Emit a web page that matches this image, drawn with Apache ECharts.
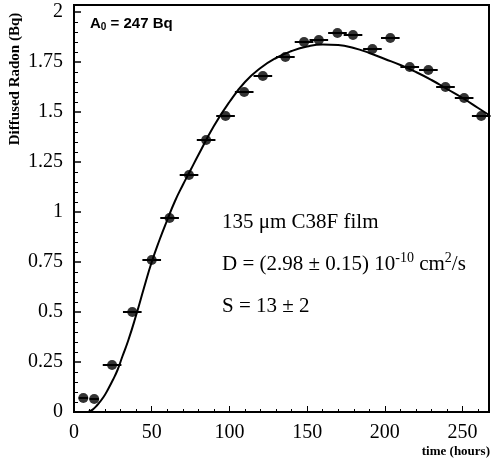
<!DOCTYPE html>
<html>
<head>
<meta charset="utf-8">
<script src="https://cdn.jsdelivr.net/npm/echarts@6/dist/echarts.min.js"></script>
<style>
  html, body { margin: 0; padding: 0; background: #fff; }
  #chart { width: 492px; height: 464px; }
</style>
</head>
<body>
<div id="chart"></div>
<script>
// Measured diffused radon activity vs. exposure time
const hours   = [6, 13, 24.5, 37.5, 50, 61.5, 74, 85, 97.5, 109.5, 121.5, 136, 148, 157.5, 169.5, 179.5, 192, 203.5, 216, 228, 239, 251, 262];
const radon   = [0.07, 0.065, 0.235, 0.5, 0.76, 0.97, 1.185, 1.36, 1.48, 1.6, 1.68, 1.775, 1.85, 1.86, 1.895, 1.885, 1.815, 1.87, 1.725, 1.71, 1.625, 1.57, 1.48];
// half-width of each time bin (hours)
const hourErr = [3, 3, 6, 6, 6, 6, 6, 6, 6, 6, 6, 6, 6, 6, 6, 6, 6, 6, 6, 6, 6, 6, 6];

// Diffusion model fit
const fitHours = [9, 12, 15, 19, 22, 25, 28, 31, 35, 40, 45, 50, 55, 60, 65, 70, 75, 80, 90, 100, 110, 120, 130, 140, 150, 160, 170, 180, 190, 200, 210, 220, 230, 240, 250, 260, 267];
const fitRadon = [0, 0.012, 0.035, 0.075, 0.115, 0.16, 0.21, 0.275, 0.36, 0.485, 0.62, 0.75, 0.86, 0.96, 1.055, 1.135, 1.21, 1.285, 1.43, 1.55, 1.65, 1.72, 1.77, 1.805, 1.828, 1.838, 1.835, 1.82, 1.795, 1.765, 1.735, 1.7, 1.66, 1.615, 1.57, 1.52, 1.485];

const yTickLabels = ['0', '0.25', '0.5', '0.75', '1', '1.25', '1.5', '1.75', '2'];
const xTickLabels = ['0', '50', '100', '150', '200', '250'];

const SERIF = '"Liberation Serif", "Times New Roman", serif';
const SANS = '"Liberation Sans", Arial, sans-serif';

function pickLabel(list, v) {
  const s = list.find(l => Math.abs(parseFloat(l) - v) < 1e-6);
  return s === undefined ? '' : s;
}

const chart = echarts.init(document.getElementById('chart'), null, { renderer: 'canvas' });

const points = hours.map((h, i) => [h, radon[i], hourErr[i]]);
const fit = fitHours.map((h, i) => [h, fitRadon[i]]);

chart.setOption({
  backgroundColor: '#fff',
  animation: false,
  grid: {
    left: 74, right: 3, top: 5, bottom: 52,
    show: true, borderColor: '#000', borderWidth: 2, backgroundColor: 'transparent'
  },
  xAxis: {
    type: 'value', min: 0, max: 267, interval: 50,
    axisLine: { show: true, lineStyle: { color: '#000', width: 2 } },
    axisTick: { show: true, inside: true, length: 6, lineStyle: { color: '#000', width: 1 } },
    minorTick: { show: true, splitNumber: 5, length: 3, lineStyle: { color: '#000', width: 1 } },
    splitLine: { show: false },
    axisLabel: {
      margin: 11, color: '#000', fontFamily: SERIF, fontSize: 20,
      showMaxLabel: false,
      formatter: v => pickLabel(xTickLabels, v)
    }
  },
  yAxis: {
    type: 'value', min: 0, max: 2.035, interval: 0.25,
    axisLine: { show: true, lineStyle: { color: '#000', width: 2 } },
    axisTick: { show: true, inside: true, length: 7, lineStyle: { color: '#000', width: 1.5 } },
    minorTick: { show: true, splitNumber: 5, length: 4, lineStyle: { color: '#000', width: 1 } },
    splitLine: { show: false },
    axisLabel: {
      margin: 11, color: '#000', fontFamily: SERIF, fontSize: 20,
      showMaxLabel: false,
      formatter: v => pickLabel(yTickLabels, v)
    }
  },
  series: [
    {
      name: 'fit',
      type: 'line',
      data: fit,
      smooth: true,
      showSymbol: false,
      lineStyle: { color: '#000', width: 2 },
      z: 2
    },
    {
      name: 'time bins',
      type: 'custom',
      data: points,
      renderItem: function (params, api) {
        const y = api.value(1);
        const a = api.coord([api.value(0) - api.value(2), y]);
        const b = api.coord([api.value(0) + api.value(2), y]);
        return {
          type: 'line',
          shape: { x1: a[0], y1: a[1], x2: b[0], y2: b[1] },
          style: { stroke: '#000', lineWidth: 2 }
        };
      },
      z: 3
    },
    {
      name: 'data',
      type: 'scatter',
      data: points,
      symbol: 'circle',
      symbolSize: 10,
      itemStyle: { color: '#000' },
      z: 4
    }
  ],
  graphic: [
    {
      type: 'text', x: 15, y: 79, rotation: Math.PI / 2,
      style: {
        text: 'Diffused Radon (Bq)', font: 'bold 15px ' + SERIF,
        align: 'center', verticalAlign: 'middle', fill: '#000'
      }
    },
    {
      type: 'text', x: 490, y: 452,
      style: {
        text: 'time (hours)', font: 'bold 13px ' + SERIF,
        align: 'right', verticalAlign: 'middle', fill: '#000'
      }
    },
    {
      type: 'text', x: 90, y: 24,
      style: {
        text: '{m|A}{s|0}{m| = 247 Bq}',
        align: 'left', verticalAlign: 'middle',
        rich: {
          m: { fontFamily: SANS, fontWeight: 'bold', fontSize: 15, lineHeight: 17, color: '#000' },
          s: { fontFamily: SANS, fontWeight: 'bold', fontSize: 10, lineHeight: 5, verticalAlign: 'bottom', color: '#000' }
        }
      }
    },
    {
      type: 'text', x: 222, y: 222,
      style: {
        text: '135 \u03bcm C38F film', font: '21px ' + SERIF,
        align: 'left', verticalAlign: 'middle', fill: '#000'
      }
    },
    {
      type: 'text', x: 222, y: 264,
      style: {
        text: '{m|D = (2.98 \u00b1 0.15) 10}{p|-10}{m| cm}{p|2}{m|/s}',
        align: 'left', verticalAlign: 'middle',
        rich: {
          m: { fontFamily: SERIF, fontSize: 21, lineHeight: 26, color: '#000' },
          p: { fontFamily: SERIF, fontSize: 14, lineHeight: 15, verticalAlign: 'top', color: '#000' }
        }
      }
    },
    {
      type: 'text', x: 222, y: 306,
      style: {
        text: 'S = 13 \u00b1 2', font: '21px ' + SERIF,
        align: 'left', verticalAlign: 'middle', fill: '#000'
      }
    }
  ]
});
</script>
</body>
</html>
